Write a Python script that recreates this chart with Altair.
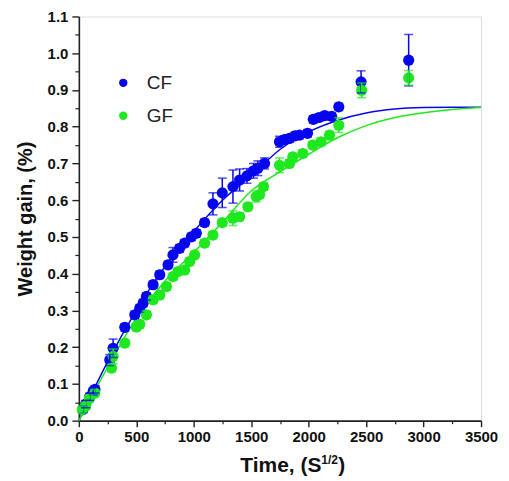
import altair as alt
import pandas as pd

# ---- data ----
cf_x = [35, 60, 95, 125, 140, 269, 298, 400, 487, 530, 560, 588, 646, 704, 776, 819, 877, 921, 979, 1022,
        1094, 1167, 1248, 1341, 1399, 1463, 1520, 1558, 1616, 1746, 1790, 1833, 1880, 1920, 1990, 2040,
        2090, 2140, 2200, 2262, 2456, 2870]
cf_y = [0.03, 0.045, 0.065, 0.08, 0.085, 0.165, 0.197, 0.254, 0.288, 0.306, 0.32, 0.338, 0.37, 0.397, 0.424,
        0.451, 0.469, 0.483, 0.50, 0.51, 0.539, 0.59, 0.62, 0.637, 0.655, 0.666, 0.68, 0.687, 0.70, 0.759,
        0.765, 0.768, 0.775, 0.777, 0.782, 0.82, 0.825, 0.83, 0.828, 0.854, 0.922, 0.981]
cf_e = [0.01, 0.01, 0.01, 0.01, 0.01, 0.015, 0.025, 0.01, 0.01, 0.01, 0.01, 0.01, 0.01, 0.01, 0.01,
        0.02, 0.01, 0.01, 0.01, 0.01, 0.01, 0.03, 0.04, 0.045, 0.03, 0.02, 0.02, 0.02, 0.015, 0.015,
        0.01, 0.01, 0.01, 0.01, 0.01, 0.01, 0.01, 0.01, 0.01, 0.01, 0.03, 0.07]

gf_x = [30, 60, 90, 139, 284, 298, 400, 500, 530, 588, 646, 704, 762, 819, 863, 921, 964, 1008, 1094, 1167,
        1248, 1341, 1399, 1471, 1544, 1573, 1607, 1746, 1833, 1862, 1949, 2036, 2108, 2181, 2262, 2461, 2870]
gf_y = [0.03, 0.04, 0.06, 0.075, 0.143, 0.175, 0.211, 0.255, 0.262, 0.288, 0.329, 0.342, 0.365, 0.392, 0.406,
        0.41, 0.433, 0.451, 0.483, 0.505, 0.539, 0.551, 0.555, 0.582, 0.61, 0.615, 0.637, 0.695, 0.70, 0.718,
        0.727, 0.75, 0.759, 0.777, 0.804, 0.899, 0.933]
gf_e = [0.01, 0.01, 0.01, 0.01, 0.01, 0.02, 0.01, 0.01, 0.01, 0.01, 0.01, 0.01, 0.01, 0.01, 0.01,
        0.01, 0.01, 0.01, 0.01, 0.01, 0.01, 0.02, 0.01, 0.01, 0.015, 0.01, 0.01, 0.02, 0.01, 0.01,
        0.01, 0.01, 0.01, 0.01, 0.02, 0.02, 0.02]

fit_x = [0, 250, 500, 750, 1000, 1250, 1500, 1750, 2000, 2250, 2500, 2750, 3000, 3250, 3500]
fit_cf = [0.0, 0.16, 0.30, 0.42, 0.515, 0.60, 0.667, 0.738, 0.786, 0.817, 0.837, 0.848, 0.852, 0.853, 0.853]
fit_gf = [0.0, 0.145, 0.279, 0.38, 0.458, 0.54, 0.625, 0.677, 0.725, 0.77, 0.803, 0.825, 0.838, 0.847, 0.852]

series = ["CF", "GF"]
colors = ["#0606ee", "#1ee81e"]

x_major = [0, 500, 1000, 1500, 2000, 2500, 3000, 3500]
x_minor = [250, 750, 1250, 1750, 2250, 2750, 3250]
y_major = [0.0, 0.1, 0.2, 0.3, 0.4, 0.5, 0.6, 0.7, 0.8, 0.9, 1.0, 1.1]
y_minor = [0.05, 0.15, 0.25, 0.35, 0.45, 0.55, 0.65, 0.75, 0.85, 0.95, 1.05]

# ---- tables ----
pts = pd.concat([
    pd.DataFrame({"t": cf_x, "w": cf_y, "e": cf_e, "s": "CF"}),
    pd.DataFrame({"t": gf_x, "w": gf_y, "e": gf_e, "s": "GF"}),
])
pts["lo"] = pts["w"] - pts["e"]
pts["hi"] = pts["w"] + pts["e"]
pts["order"] = pts["s"].map({"CF": 0, "GF": 1})

fits = pd.concat([
    pd.DataFrame({"t": fit_x, "w": fit_cf, "s": "CF"}),
    pd.DataFrame({"t": fit_x, "w": fit_gf, "s": "GF"}),
])

FONT = "Liberation Sans"
xs = alt.Scale(domain=[0, 3500], nice=False, zero=False)
ys = alt.Scale(domain=[0, 1.1], nice=False, zero=False)
cs = alt.Scale(domain=series, range=colors)

legend = alt.Legend(
    title=None, orient="none", legendX=35, legendY=57,
    symbolType="circle", symbolSize=70, symbolStrokeWidth=0,
    labelFont=FONT, labelFontSize=19, labelColor="#222", labelOffset=14,
    rowPadding=13)
col = alt.Color("s:N", scale=cs, legend=legend)

minor_x_axis = alt.Axis(orient="bottom", values=x_minor, labels=False, tickSize=3, tickWidth=1.2,
                        tickColor="#222", domain=False, grid=False, title=None)
minor_y_axis = alt.Axis(orient="left", values=y_minor, labels=False, tickSize=4, tickWidth=1.2,
                        tickColor="#222", domain=False, grid=False, title=None)
major_x_axis = alt.Axis(orient="bottom", values=x_major, format="d", tickSize=6, tickWidth=1.4,
                        tickColor="#222", domain=True, domainColor="#222", domainWidth=1.6, grid=False,
                        title=None, labelFont=FONT, labelFontSize=15, labelFontWeight="bold",
                        labelColor="#111", labelPadding=3, labelFlush=False)
major_y_axis = alt.Axis(orient="left", values=y_major, format=".1f", tickSize=7, tickWidth=1.4,
                        tickColor="#222", domain=True, domainColor="#222", domainWidth=1.6, grid=False,
                        title="Weight gain, (%)", titleFont=FONT, titleFontSize=20,
                        titleFontWeight="bold", titleColor="#111", titlePadding=12,
                        labelFont=FONT, labelFontSize=15, labelFontWeight="bold", labelColor="#111",
                        labelPadding=4, labelFlush=False)

base = alt.Chart(pts)

fit_lines = alt.Chart(fits).mark_line(strokeWidth=1.5, interpolate="monotone").encode(
    x=alt.X("t:Q", scale=xs, axis=minor_x_axis),
    y=alt.Y("w:Q", scale=ys, axis=minor_y_axis),
    color=col,
)

err_rules = base.mark_rule(strokeWidth=1.5).encode(
    x=alt.X("t:Q", scale=xs, axis=None),
    y=alt.Y("lo:Q", scale=ys, axis=None),
    y2="hi:Q",
    color=col,
)
err_lo = base.mark_tick(size=9, thickness=1.5, orient="horizontal").encode(
    x=alt.X("t:Q", scale=xs, axis=None),
    y=alt.Y("lo:Q", scale=ys, axis=None),
    color=col,
)
err_hi = base.mark_tick(size=9, thickness=1.5, orient="horizontal").encode(
    x=alt.X("t:Q", scale=xs, axis=None),
    y=alt.Y("hi:Q", scale=ys, axis=None),
    color=col,
)

points = base.mark_circle(size=125, opacity=1).encode(
    x=alt.X("t:Q", scale=xs, axis=major_x_axis),
    y=alt.Y("w:Q", scale=ys, axis=major_y_axis),
    color=col,
    order=alt.Order("order:Q"),
)

title_df = pd.DataFrame({"a": [0]})
t_main = alt.Chart(title_df).mark_text(text="Time, (S", font=FONT, fontSize=21, fontWeight="bold",
                                       color="#111", align="right", baseline="alphabetic").encode(
    x=alt.value(243), y=alt.value(456))
t_sup = alt.Chart(title_df).mark_text(text="1/2", font=FONT, fontSize=12, fontWeight="bold",
                                      color="#111", align="left", baseline="alphabetic").encode(
    x=alt.value(243), y=alt.value(448))
t_close = alt.Chart(title_df).mark_text(text=")", font=FONT, fontSize=21, fontWeight="bold",
                                        color="#111", align="left", baseline="alphabetic").encode(
    x=alt.value(260), y=alt.value(456))

chart = alt.layer(
    fit_lines, points, err_rules, err_lo, err_hi, t_main, t_sup, t_close
).resolve_axis(x="independent", y="independent").properties(
    width=403, height=405,
    autosize="none",
    padding={"left": 71, "top": 8, "right": 20, "bottom": 58},
).configure_view(stroke="#333", strokeWidth=1.6).configure(background="white")

chart.save("out.html", embed_options={"renderer": "svg", "actions": False})
